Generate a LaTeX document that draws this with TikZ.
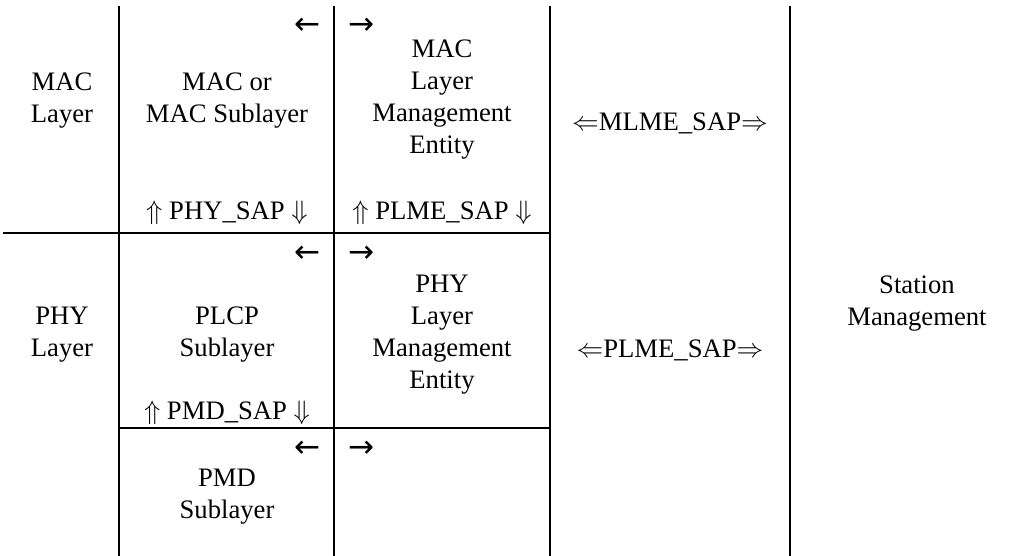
\documentclass[tikz,border=0pt]{standalone}
\usepackage{fontspec}
\setmainfont{Liberation Serif}
\newfontfamily\arrowfont{DejaVu Sans}
\usepackage{amsmath,amssymb}
\usepackage{tikz}

\begin{document}
\begin{tikzpicture}[x=0.45pt, y=-0.45pt,
    rule/.style={line width=0.9pt},
    lbl/.style={align=center, inner sep=0pt, font=\fontsize{12}{14.4}\selectfont},
    arr/.style={inner sep=0pt, font=\arrowfont\fontsize{14}{14.4}\selectfont}]
    \useasboundingbox (0,0) rectangle (1032,556);
    % rules of the table
    \draw[rule] (119,6) -- (119,556);
    \draw[rule] (334,6) -- (334,556);
    \draw[rule] (550,6) -- (550,556);
    \draw[rule] (790,6) -- (790,556);
    \draw[rule] (3,233) -- (550,233);
    \draw[rule] (119,428) -- (550,428);
    % layers
    \node[lbl] (maclayer) at (62,101)  {MAC\\Layer};
    \node[lbl] (phylayer) at (62,335) {PHY\\Layer};
    % sublayers
    \node[lbl] (macsub)  at (227,101)  {MAC or\\MAC Sublayer};
    \node[lbl] (plcpsub) at (227,335) {PLCP\\Sublayer};
    \node[lbl] (pmdsub)  at (227,497) {PMD\\Sublayer};
    \node[lbl] (physap)  at (227,213) {$\Uparrow$ PHY\_SAP $\Downarrow$};
    \node[lbl] (pmdsap)  at (227,413) {$\Uparrow$ PMD\_SAP $\Downarrow$};
    % management entities
    \node[lbl] (mlme)    at (442,100)  {MAC\\Layer\\Management\\Entity};
    \node[lbl] (plme)    at (442,335) {PHY\\Layer\\Management\\Entity};
    \node[lbl] (plmesap) at (442,213) {$\Uparrow$ PLME\_SAP $\Downarrow$};
    % arrows across the entity boundary
    \node[arr] (macl) at (308,26)  {←};
    \node[arr] (macr) at (362,26)  {→};
    \node[arr] (plcpl) at (308,254) {←};
    \node[arr] (plcpr) at (362,254) {→};
    \node[arr] (pmdl) at (308,449) {←};
    \node[arr] (pmdr) at (362,449) {→};
    % station management
    \node[lbl] (mlmesta) at (670,123) {$\Leftarrow$MLME\_SAP$\Rightarrow$};
    \node[lbl] (plmesta) at (670,350) {$\Leftarrow$PLME\_SAP$\Rightarrow$};
    \node[lbl] (station) at (917,304) {Station\\Management};
\end{tikzpicture}
\end{document}
